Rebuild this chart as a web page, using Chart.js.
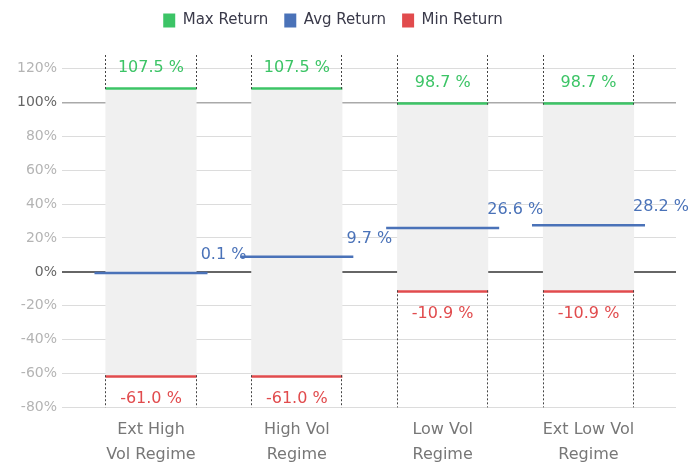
<!DOCTYPE html>
<html>
<head>
<meta charset="utf-8">
<script src="https://cdn.jsdelivr.net/npm/chart.js@4.4.0/dist/chart.umd.min.js"></script>
<style>
  html, body { margin: 0; padding: 0; background: #fff; }
  #wrap { width: 691px; height: 465px; }
</style>
</head>
<body>
<div id="wrap"><canvas id="grafico"></canvas></div>
<script>
// Regimes de volatilidade (eixo x)
const regimes = [['Ext High', 'Vol Regime'], ['High Vol', 'Regime'], ['Low Vol', 'Regime'], ['Ext Low Vol', 'Regime']];
// Retornos em % por regime
const maxReturn = [107.5, 107.5, 98.7, 98.7];
const avgReturn = [0.1, 9.7, 26.6, 28.2];
const minReturn = [-61.0, -61.0, -10.9, -10.9];
// Marcas do eixo y
const yTicks = [-80, -60, -40, -20, 0, 20, 40, 60, 80, 100, 120];

const verde = '#3cc466';
const azul = '#4a72b8';
const vermelho = '#e14b4d';

Chart.defaults.font.family = '"DejaVu Sans", sans-serif';

// Linha fina em cada valor (barra flutuante de altura zero + minBarLength)
const linha = vals => vals.map((v, i) => ({ x: i, y: [v, v] }));

// Linhas tracejadas nas bordas da faixa e rótulos com os valores
const extras = {
  id: 'extras',
  beforeInit(chart) {
    // espaço entre a legenda e o gráfico
    const fitOriginal = chart.legend.fit;
    chart.legend.fit = function () { fitOriginal.call(this); this.height += 17; };
  },
  afterLayout(chart) {
    // legenda um pouco mais à esquerda
    chart.legend.right -= 22;
  },
  afterDatasetsDraw(chart) {
    const ctx = chart.ctx;
    const area = chart.chartArea;
    ctx.save();
    // tracejado
    const faixa = chart.getDatasetMeta(0);
    ctx.strokeStyle = '#444';
    ctx.lineWidth = 1;
    ctx.setLineDash([2, 2]);
    faixa.data.forEach(bar => {
      const esq = Math.round(bar.x - bar.width / 2) + 0.5;
      const dir = Math.round(bar.x + bar.width / 2) - 0.5;
      [esq, dir].forEach(x => {
        ctx.beginPath();
        ctx.moveTo(x, area.top);
        ctx.lineTo(x, bar.y);
        ctx.moveTo(x, bar.base);
        ctx.lineTo(x, area.bottom);
        ctx.stroke();
      });
    });
    ctx.setLineDash([]);
    // rótulos
    ctx.font = '16px "DejaVu Sans"';
    ctx.textBaseline = 'middle';
    ctx.textAlign = 'center';
    chart.data.datasets.forEach((ds, i) => {
      if (!ds.rotulo) return;
      const meta = chart.getDatasetMeta(i);
      ctx.fillStyle = ds.backgroundColor;
      meta.data.forEach((bar, j) => {
        const texto = ds.data[j].y[0].toFixed(1) + ' %';
        const topo = Math.min(bar.y, bar.base);
        const fundo = Math.max(bar.y, bar.base);
        if (ds.rotulo === 'acima') ctx.fillText(texto, bar.x, topo - 19);
        else if (ds.rotulo === 'abaixo') ctx.fillText(texto, bar.x, fundo + 21);
        else ctx.fillText(texto, bar.x + bar.width / 2 + 16, (topo + fundo) / 2 - 18);
      });
    });
    ctx.restore();
  }
};

new Chart(document.getElementById('grafico'), {
  type: 'bar',
  data: {
    datasets: [
      {
        label: 'Range',
        data: minReturn.map((v, i) => ({ x: i, y: [v, maxReturn[i]] })),
        backgroundColor: '#f0f0f0',
        borderWidth: 0,
        barPercentage: 0.625,
        order: 2
      },
      {
        label: 'Max Return',
        data: linha(maxReturn),
        backgroundColor: verde,
        borderWidth: 0,
        barPercentage: 0.625,
        minBarLength: 2.5,
        base: -1000, // faz a linha crescer para cima
        rotulo: 'acima',
        order: 1
      },
      {
        label: 'Avg Return',
        data: linha(avgReturn),
        backgroundColor: azul,
        borderWidth: 0,
        barPercentage: 0.775,
        minBarLength: 2.5,
        rotulo: 'direita',
        order: 1
      },
      {
        label: 'Min Return',
        data: linha(minReturn),
        backgroundColor: vermelho,
        borderWidth: 0,
        barPercentage: 0.625,
        minBarLength: 2.5,
        rotulo: 'abaixo',
        order: 1
      }
    ]
  },
  options: {
    responsive: true,
    maintainAspectRatio: false,
    animation: false,
    layout: { padding: { left: 12, right: 15, top: -3, bottom: -12 } },
    datasets: { bar: { grouped: false, categoryPercentage: 1 } },
    scales: {
      x: {
        type: 'linear',
        offset: false,
        min: -0.61,
        max: 3.6,
        afterBuildTicks: s => { s.ticks = regimes.map((r, i) => ({ value: i })); },
        grid: { display: false, drawTicks: false },
        border: { display: false },
        ticks: {
          callback: v => regimes[v],
          color: '#777',
          font: { size: 16, lineHeight: 1.55 },
          padding: 10,
          maxRotation: 0,
          autoSkip: false
        }
      },
      y: {
        min: -80,
        max: 128,
        afterBuildTicks: s => { s.ticks = yTicks.map(v => ({ value: v })); },
        border: { display: false },
        grid: {
          drawTicks: false,
          color: c => c.tick.value === 0 ? '#666' : (c.tick.value === 100 ? '#aaa' : '#dcdcdc'),
          lineWidth: c => c.tick.value === 0 ? 2 : (c.tick.value === 100 ? 1.5 : 1)
        },
        ticks: {
          callback: v => v + '%',
          color: c => (c.tick.value === 0 || c.tick.value === 100) ? '#666' : '#b4b4b4',
          font: { size: 14 },
          padding: 5
        }
      }
    },
    plugins: {
      legend: {
        position: 'top',
        labels: {
          filter: item => item.datasetIndex !== 0,
          boxWidth: 12,
          boxHeight: 14,
          padding: 16,
          color: '#3a3a4a',
          font: { size: 15 }
        }
      },
      tooltip: { enabled: false }
    }
  },
  plugins: [extras]
});
</script>
</body>
</html>
